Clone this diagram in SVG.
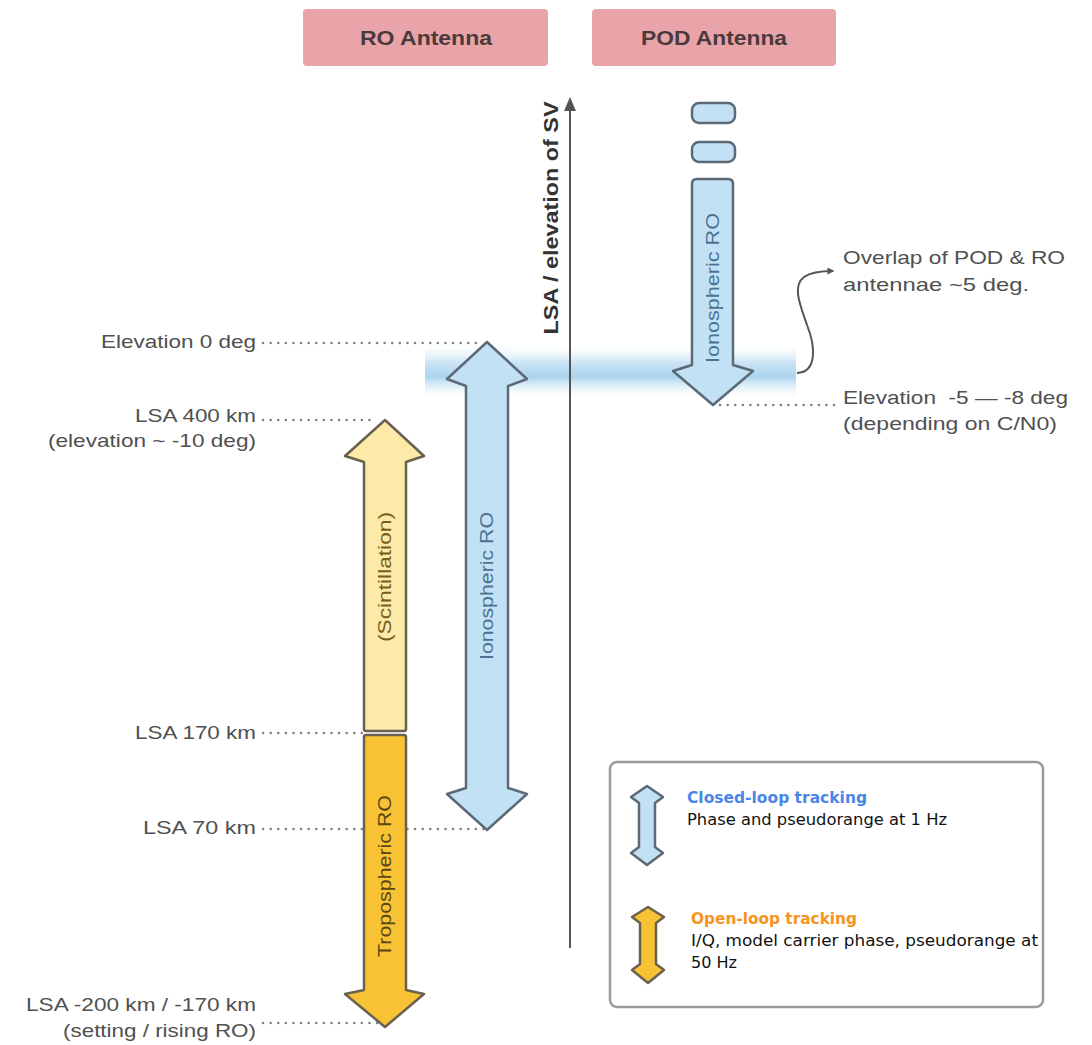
<svg xmlns="http://www.w3.org/2000/svg" width="1092" height="1045" viewBox="0 0 1092 1045">
  <defs>
    <linearGradient id="bandGrad" x1="0" y1="0" x2="0" y2="1">
      <stop offset="0" stop-color="#ffffff" stop-opacity="0"/>
      <stop offset="0.35" stop-color="#c9e3f5" stop-opacity="1"/>
      <stop offset="0.6" stop-color="#acd4ef" stop-opacity="1"/>
      <stop offset="1" stop-color="#ffffff" stop-opacity="0"/>
    </linearGradient>
    <marker id="arrowHead" viewBox="0 0 10 10" refX="8" refY="5" markerWidth="7" markerHeight="7" orient="auto" markerUnits="userSpaceOnUse">
      <path d="M0,0 L10,5 L0,10 Z" fill="#555555"/>
    </marker>
    <style>
      .hdr { fill: #e9a4a9; }
      .hdrText { font-family: "Liberation Sans", Arial, sans-serif; font-weight: bold; font-size: 21px; fill: #4a3a3c; text-anchor: middle; }
      .lbl { font-family: "Liberation Sans", Arial, sans-serif; font-size: 19px; fill: #505050; }
      .lblR { text-anchor: end; }
      .blueArrow { fill: #c3e1f4; stroke: #5b6a76; stroke-width: 2.5; stroke-linejoin: round; }
      .yellowArrow { fill: #fde9a8; stroke: #6a6250; stroke-width: 2.5; stroke-linejoin: round; }
      .orangeArrow { fill: #f8c235; stroke: #6a6250; stroke-width: 2.5; stroke-linejoin: round; }
      .rotBlue { font-family: "Liberation Sans", Arial, sans-serif; font-size: 18px; fill: #4a7390; text-anchor: middle; }
      .rotYellow { font-family: "Liberation Sans", Arial, sans-serif; font-size: 18px; fill: #745e20; text-anchor: middle; }
      .rotOrange { font-family: "Liberation Sans", Arial, sans-serif; font-size: 18px; fill: #5a4612; text-anchor: middle; }
      .dots { stroke: #808080; stroke-width: 2.5; stroke-dasharray: 0.1 7.5; stroke-linecap: round; fill: none; }
      .axis { stroke: #555555; stroke-width: 2; fill: none; }
      .legTitle { font-family: "DejaVu Sans", Verdana, sans-serif; font-weight: bold; font-size: 16px; }
      .legText { font-family: "DejaVu Sans", Verdana, sans-serif; font-size: 16px; fill: #111111; }
    </style>
  </defs>

  <rect width="1092" height="1045" fill="#ffffff"/>

  <!-- overlap band -->
  <g id="overlap-band">
    <rect x="425" y="343" width="371" height="57" fill="url(#bandGrad)"/>
  </g>

  <!-- header nodes -->
  <g id="ro-antenna">
    <rect class="hdr" x="303" y="9" width="245" height="57" rx="4"/>
    <text class="hdrText" x="426" y="45" textLength="132" lengthAdjust="spacingAndGlyphs">RO Antenna</text>
  </g>
  <g id="pod-antenna">
    <rect class="hdr" x="592" y="9" width="244" height="57" rx="4"/>
    <text class="hdrText" x="714" y="45" textLength="146" lengthAdjust="spacingAndGlyphs">POD Antenna</text>
  </g>

  <!-- connectors: axis, dotted guides, callout arrow -->
  <g id="connectors">
    <line class="axis" x1="570" y1="948" x2="570" y2="108"/>
    <path d="M570,97 L576,111 L564,111 Z" fill="#555555"/>
    <line class="dots" x1="263" y1="343" x2="480" y2="343"/>
    <line class="dots" x1="263" y1="420" x2="370" y2="420"/>
    <line class="dots" x1="263" y1="733" x2="362" y2="733"/>
    <line class="dots" x1="263" y1="829" x2="490" y2="829"/>
    <line class="dots" x1="263" y1="1023" x2="380" y2="1023"/>
    <line class="dots" x1="720" y1="405" x2="838" y2="405"/>
    <path d="M797,373 C818,372 815,345 807,325 C800,305 792,286 804,277 C811,272 820,271 833,271" fill="none" stroke="#555555" stroke-width="2" marker-end="url(#arrowHead)"/>
  </g>

  <!-- axis label -->
  <g id="axis-label">
    <text x="558" y="218" transform="rotate(-90 558 218)" font-family="Liberation Sans, Arial, sans-serif" font-weight="bold" font-size="20" fill="#333333" text-anchor="middle" textLength="233" lengthAdjust="spacingAndGlyphs">LSA / elevation of SV</text>
  </g>

  <!-- POD ionospheric arrow -->
  <g id="pod-ionospheric">
    <rect class="blueArrow" x="692" y="103" width="43" height="20" rx="7"/>
    <rect class="blueArrow" x="692" y="142" width="43" height="20" rx="7"/>
    <path class="blueArrow" d="M697,179 L728,179 Q733,179 733,184 L733,365 L753,371 L713,405 L673,371 L692,365 L692,184 Q692,179 697,179 Z"/>
    <text class="rotBlue" x="719" y="288" transform="rotate(-90 719 288)" textLength="150" lengthAdjust="spacingAndGlyphs">Ionospheric RO</text>
  </g>

  <!-- RO ionospheric double arrow -->
  <g id="ro-ionospheric">
    <path class="blueArrow" d="M487,342 L527,379 L508,386 L508,788 L527,794 L487,830 L447,794 L466,788 L466,386 L447,379 Z"/>
    <text class="rotBlue" x="493" y="586" transform="rotate(-90 493 586)" textLength="148" lengthAdjust="spacingAndGlyphs">Ionospheric RO</text>
  </g>

  <!-- Scintillation arrow -->
  <g id="scintillation">
    <path class="yellowArrow" d="M385,420 L424,456 L406,462 L406,729 Q406,731 404,731 L366,731 Q364,731 364,729 L364,462 L345,456 Z"/>
    <text class="rotYellow" x="391" y="577" transform="rotate(-90 391 577)" textLength="130" lengthAdjust="spacingAndGlyphs">(Scintillation)</text>
  </g>

  <!-- Tropospheric arrow -->
  <g id="tropospheric">
    <path class="orangeArrow" d="M366,735 L404,735 Q406,735 406,737 L406,990 L424,994 L385,1027 L345,994 L364,990 L364,737 Q364,735 366,735 Z"/>
    <text class="rotOrange" x="391" y="876" transform="rotate(-90 391 876)" textLength="162" lengthAdjust="spacingAndGlyphs">Tropospheric RO</text>
  </g>

  <!-- left labels -->
  <g id="label-elev0">
    <text class="lbl lblR" x="256" y="348" textLength="155" lengthAdjust="spacingAndGlyphs">Elevation 0 deg</text>
  </g>
  <g id="label-lsa400">
    <text class="lbl lblR" x="256" y="422" textLength="121" lengthAdjust="spacingAndGlyphs">LSA 400 km</text>
    <text class="lbl lblR" x="256" y="447" textLength="208" lengthAdjust="spacingAndGlyphs">(elevation ~ -10 deg)</text>
  </g>
  <g id="label-lsa170">
    <text class="lbl lblR" x="256" y="739" textLength="121" lengthAdjust="spacingAndGlyphs">LSA 170 km</text>
  </g>
  <g id="label-lsa70">
    <text class="lbl lblR" x="256" y="834" textLength="113" lengthAdjust="spacingAndGlyphs">LSA 70 km</text>
  </g>
  <g id="label-lsa-200">
    <text class="lbl lblR" x="256" y="1011" textLength="230" lengthAdjust="spacingAndGlyphs">LSA -200 km / -170 km</text>
    <text class="lbl lblR" x="256" y="1037" textLength="193" lengthAdjust="spacingAndGlyphs">(setting / rising RO)</text>
  </g>

  <!-- right labels -->
  <g id="label-overlap">
    <text class="lbl" x="843" y="264" textLength="222" lengthAdjust="spacingAndGlyphs">Overlap of POD &amp; RO</text>
    <text class="lbl" x="843" y="291" textLength="186" lengthAdjust="spacingAndGlyphs">antennae ~5 deg.</text>
  </g>
  <g id="label-elev-5">
    <text class="lbl" x="843" y="404" textLength="225" lengthAdjust="spacingAndGlyphs" xml:space="preserve">Elevation  -5 — -8 deg</text>
    <text class="lbl" x="843" y="430" textLength="214" lengthAdjust="spacingAndGlyphs">(depending on C/N0)</text>
  </g>

  <!-- legend -->
  <g id="legend">
    <rect x="610" y="762" width="433" height="245" rx="7" fill="#ffffff" stroke="#9a9a9a" stroke-width="2.5"/>
    <path class="blueArrow" d="M647,786 L663,797 L655,803 L655,847 L663,853 L647,865 L631,853 L639,847 L639,803 L631,797 Z"/>
    <text class="legTitle" x="687" y="803" fill="#4a86e8" textLength="180" lengthAdjust="spacingAndGlyphs">Closed-loop tracking</text>
    <text class="legText" x="687" y="825" textLength="260" lengthAdjust="spacingAndGlyphs">Phase and pseudorange at 1 Hz</text>
    <path class="orangeArrow" d="M648,907 L664,917 L656,923 L656,964 L664,970 L648,983 L632,970 L640,964 L640,923 L632,917 Z"/>
    <text class="legTitle" x="691" y="924" fill="#f7941d" textLength="166" lengthAdjust="spacingAndGlyphs">Open-loop tracking</text>
    <text class="legText" x="691" y="946" textLength="347" lengthAdjust="spacingAndGlyphs">I/Q, model carrier phase, pseudorange at</text>
    <text class="legText" x="691" y="968" textLength="46" lengthAdjust="spacingAndGlyphs">50 Hz</text>
  </g>
</svg>
